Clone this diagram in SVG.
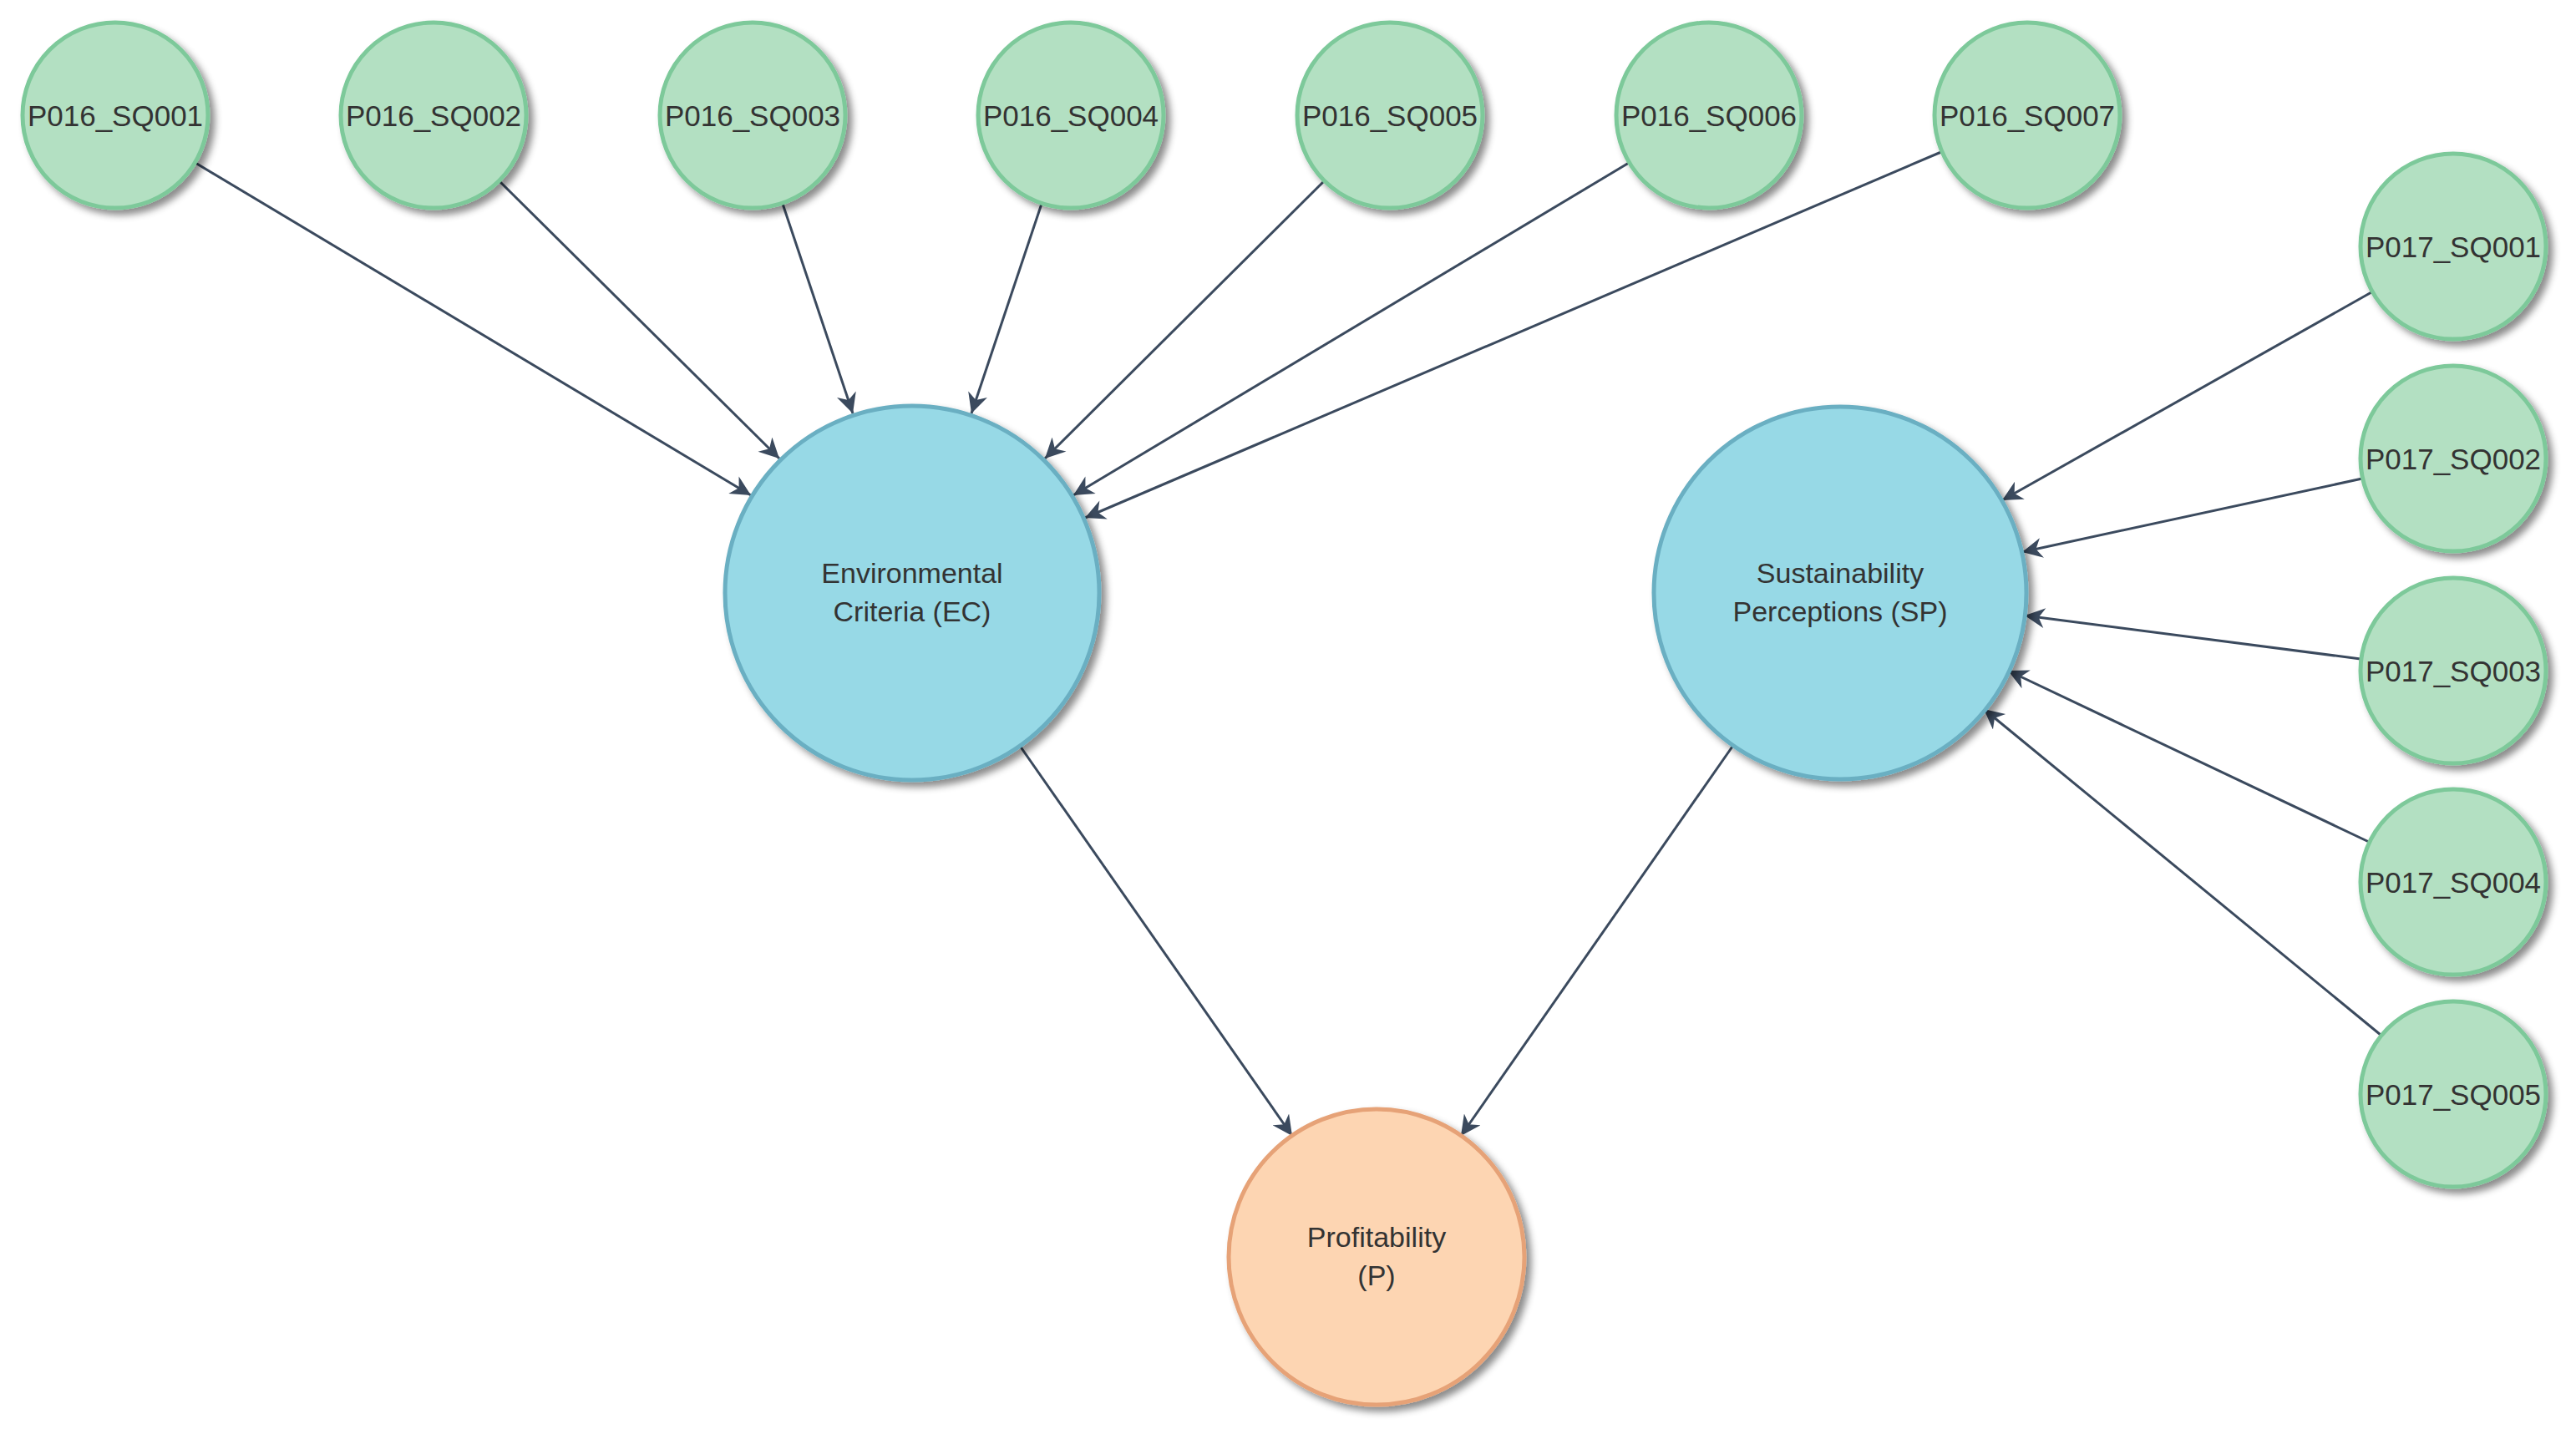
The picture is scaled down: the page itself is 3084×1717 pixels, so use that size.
<svg xmlns="http://www.w3.org/2000/svg" width="3084" height="1717" viewBox="0 0 3084 1717">
<style>
text{font-family:"Liberation Sans",Arial,sans-serif;fill:#333;text-anchor:middle;dominant-baseline:central}
.s{font-size:35px}.b{font-size:34px}
.g{fill:#b3e0c2;stroke:#7dc99a;stroke-width:5}
.c{fill:#97d9e6;stroke:#6aafc2;stroke-width:5}
.o{fill:#fdd5b2;stroke:#e6a277;stroke-width:5}
.e line{stroke:#3b4a5e;stroke-width:3;marker-end:url(#a)}
</style>
<defs>
<marker id="a" viewBox="0 0 10 10" refX="10" refY="5" markerWidth="9" markerHeight="8" orient="auto" markerUnits="strokeWidth"><path d="M0,0L10,5L0,10L3,5Z" fill="#3b4a5e"/></marker>
<filter id="sh" x="-20%" y="-20%" width="150%" height="150%"><feDropShadow dx="6" dy="6" stdDeviation="4" flood-color="#000" flood-opacity="0.45"/></filter>
</defs>
<g class="e" id="edges">
<line x1="234" y1="195" x2="899" y2="593"/>
<line x1="598" y1="217" x2="933" y2="549"/>
<line x1="937" y1="244" x2="1021" y2="495"/>
<line x1="1247" y1="244" x2="1163" y2="495"/>
<line x1="1585" y1="217" x2="1251" y2="549"/>
<line x1="1950" y1="195" x2="1285" y2="593"/>
<line x1="2324" y1="182" x2="1299" y2="620"/>
<line x1="2839" y1="350" x2="2397" y2="599"/>
<line x1="2828" y1="573" x2="2421" y2="661"/>
<line x1="2826" y1="789" x2="2424" y2="737"/>
<line x1="2836" y1="1008" x2="2404" y2="803"/>
<line x1="2850" y1="1239" x2="2375" y2="849"/>
<line x1="1221" y1="893" x2="1547" y2="1360"/>
<line x1="2076" y1="891" x2="1749" y2="1360"/>
</g>
<g id="n1"><circle class="g" filter="url(#sh)" cx="138" cy="138" r="111"/><text class="s" x="138" y="138">P016_SQ001</text></g>
<g id="n2"><circle class="g" filter="url(#sh)" cx="519" cy="138" r="111"/><text class="s" x="519" y="138">P016_SQ002</text></g>
<g id="n3"><circle class="g" filter="url(#sh)" cx="901" cy="138" r="111"/><text class="s" x="901" y="138">P016_SQ003</text></g>
<g id="n4"><circle class="g" filter="url(#sh)" cx="1282" cy="138" r="111"/><text class="s" x="1282" y="138">P016_SQ004</text></g>
<g id="n5"><circle class="g" filter="url(#sh)" cx="1664" cy="138" r="111"/><text class="s" x="1664" y="138">P016_SQ005</text></g>
<g id="n6"><circle class="g" filter="url(#sh)" cx="2046" cy="138" r="111"/><text class="s" x="2046" y="138">P016_SQ006</text></g>
<g id="n7"><circle class="g" filter="url(#sh)" cx="2427" cy="138" r="111"/><text class="s" x="2427" y="138">P016_SQ007</text></g>
<g id="r1"><circle class="g" filter="url(#sh)" cx="2937" cy="295" r="111"/><text class="s" x="2937" y="295">P017_SQ001</text></g>
<g id="r2"><circle class="g" filter="url(#sh)" cx="2937" cy="549" r="111"/><text class="s" x="2937" y="549">P017_SQ002</text></g>
<g id="r3"><circle class="g" filter="url(#sh)" cx="2937" cy="803" r="111"/><text class="s" x="2937" y="803">P017_SQ003</text></g>
<g id="r4"><circle class="g" filter="url(#sh)" cx="2937" cy="1056" r="111"/><text class="s" x="2937" y="1056">P017_SQ004</text></g>
<g id="r5"><circle class="g" filter="url(#sh)" cx="2937" cy="1310" r="111"/><text class="s" x="2937" y="1310">P017_SQ005</text></g>
<g id="ec"><circle class="c" filter="url(#sh)" cx="1092" cy="710" r="224"/><text class="b" x="1092" y="686">Environmental</text><text class="b" x="1092" y="732">Criteria (EC)</text></g>
<g id="sp"><circle class="c" filter="url(#sh)" cx="2203" cy="710" r="223"/><text class="b" x="2203" y="686">Sustainability</text><text class="b" x="2203" y="732">Perceptions (SP)</text></g>
<g id="p"><circle class="o" filter="url(#sh)" cx="1648" cy="1505" r="177"/><text class="b" x="1648" y="1481">Profitability</text><text class="b" x="1648" y="1527">(P)</text></g>
</svg>
